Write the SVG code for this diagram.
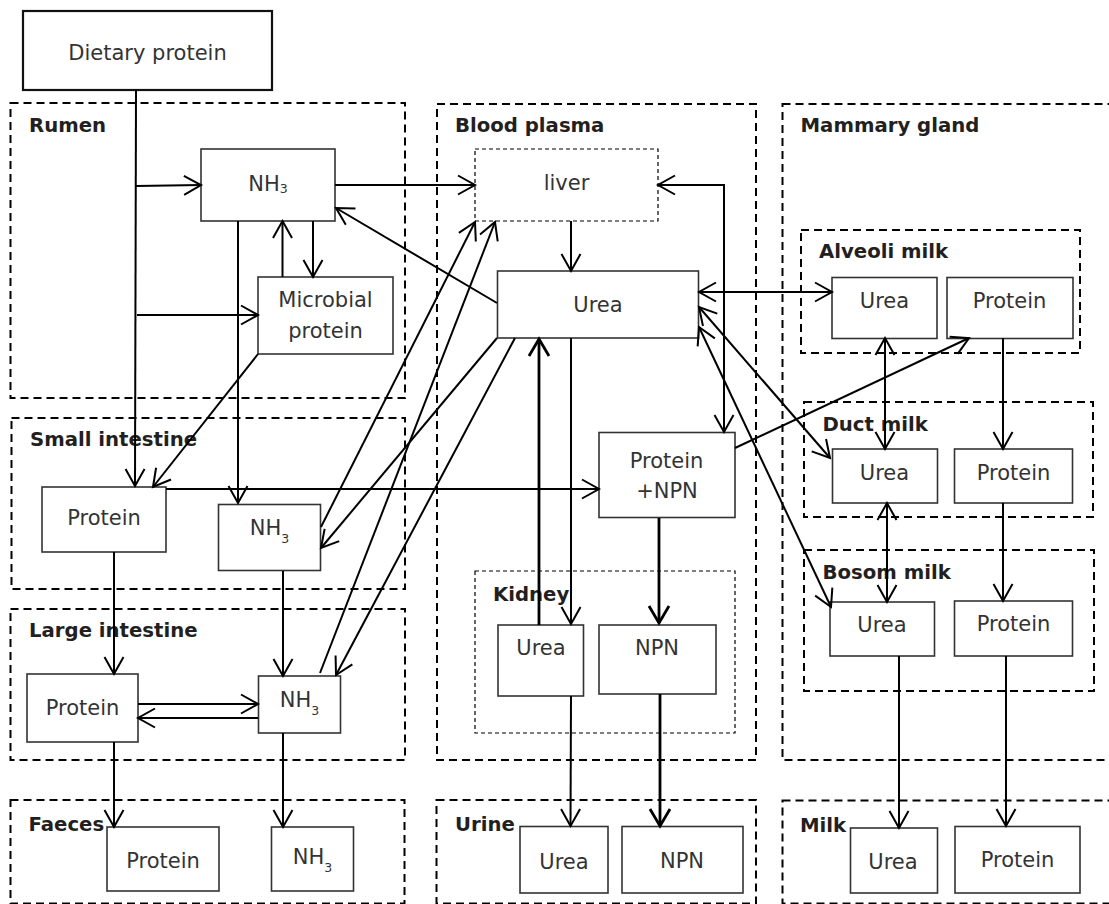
<svg xmlns="http://www.w3.org/2000/svg" width="1109" height="904" viewBox="0 0 1109 904">
<style>
.c{fill:none;stroke:#000;stroke-width:2;stroke-dasharray:8 5}
.ci{fill:none;stroke:#000;stroke-width:1.2;stroke-dasharray:4 3}
.n{fill:#fff;stroke:#333;stroke-width:1.6}
.t{font-family:"DejaVu Sans","Noto Sans",sans-serif;font-size:21px;fill:#333;text-anchor:middle}
.s{font-size:12.5px}
.lb{font-family:"DejaVu Sans","Noto Sans",sans-serif;font-size:19.7px;font-weight:bold;fill:#231f20}
.e{fill:none;stroke:#000;stroke-width:2;marker-end:url(#a)}
.b{marker-start:url(#a)}
.k{fill:none;stroke:#000;stroke-width:2.8;marker-end:url(#ab)}
</style>
<defs>
<marker id="a" markerUnits="userSpaceOnUse" viewBox="-20 -20 40 40" markerWidth="40" markerHeight="40" refX="0" refY="0" orient="auto-start-reverse">
<path d="M-17,-9.5 L0,0 L-17,9.5" fill="none" stroke="#000" stroke-width="2"/>
</marker>
<marker id="ab" markerUnits="userSpaceOnUse" viewBox="-20 -20 40 40" markerWidth="40" markerHeight="40" refX="0" refY="0" orient="auto-start-reverse">
<path d="M-17,-10 L0,0 L-17,10" fill="none" stroke="#000" stroke-width="2.8"/>
</marker>
</defs>

<g id="containers">
<g id="rumen"><rect class="c" x="10.5" y="103" width="394.5" height="295"/><text class="lb" x="29" y="132">Rumen</text></g>
<g id="small-intestine"><rect class="c" x="11.5" y="418" width="393.5" height="171"/><text class="lb" x="30" y="446">Small intestine</text></g>
<g id="large-intestine"><rect class="c" x="10.5" y="609" width="394.5" height="151"/><text class="lb" x="29" y="637">Large intestine</text></g>
<g id="faeces"><rect class="c" x="10.5" y="800" width="394" height="103.5"/><text class="lb" x="28.5" y="831">Faeces</text></g>
<g id="blood-plasma"><rect class="c" x="437" y="104" width="319" height="656"/><text class="lb" x="455" y="132">Blood plasma</text></g>
<g id="kidney"><rect class="ci" x="475" y="571" width="260" height="162"/><text class="lb" x="493" y="601">Kidney</text></g>
<g id="urine"><rect class="c" x="436.5" y="800" width="319.5" height="103.5"/><text class="lb" x="455" y="831">Urine</text></g>
<g id="mammary-gland"><rect class="c" x="782.5" y="104" width="340" height="656"/><text class="lb" x="800.5" y="132">Mammary gland</text></g>
<g id="alveoli-milk"><rect class="c" x="801" y="230" width="279" height="123"/><text class="lb" x="819" y="258">Alveoli milk</text></g>
<g id="duct-milk"><rect class="c" x="804" y="402" width="289" height="115"/><text class="lb" x="822.5" y="430.5">Duct milk</text></g>
<g id="bosom-milk"><rect class="c" x="804" y="550" width="290" height="141"/><text class="lb" x="822.5" y="579">Bosom milk</text></g>
<g id="milk"><rect class="c" x="782.5" y="800.5" width="340" height="103"/><text class="lb" x="800" y="832">Milk</text></g>
</g>

<g id="dietary-protein"><rect x="23" y="11" width="249" height="79" fill="#fff" stroke="#111" stroke-width="2.2"/><text class="t" x="147.5" y="60">Dietary protein</text></g>

<g id="rumen-nh3"><rect class="n" x="201" y="149" width="134" height="72"/><text class="t" x="268" y="190.7">NH<tspan class="s" dy="2">3</tspan></text></g>
<g id="microbial-protein"><rect class="n" x="258" y="277" width="135" height="77"/><text class="t" x="325.5" y="307">Microbial</text><text class="t" x="325.5" y="338">protein</text></g>

<g id="si-protein"><rect class="n" x="42" y="487" width="124" height="65"/><text class="t" x="104" y="525">Protein</text></g>
<g id="si-nh3"><rect class="n" x="218.5" y="504.5" width="102" height="66"/><text class="t" x="269.5" y="535">NH<tspan class="s" dy="8">3</tspan></text></g>

<g id="li-protein"><rect class="n" x="27" y="674" width="111" height="68"/><text class="t" x="82.5" y="715">Protein</text></g>
<g id="li-nh3"><rect class="n" x="258.5" y="676" width="82" height="57"/><text class="t" x="299.5" y="706.5">NH<tspan class="s" dy="8">3</tspan></text></g>

<g id="faeces-protein"><rect class="n" x="107" y="827" width="112" height="64"/><text class="t" x="163" y="868">Protein</text></g>
<g id="faeces-nh3"><rect class="n" x="271.5" y="827" width="82" height="64"/><text class="t" x="312.5" y="864">NH<tspan class="s" dy="8">3</tspan></text></g>

<g id="liver"><rect class="ci" x="475" y="149" width="183" height="72" fill="none"/><text class="t" x="566.5" y="190">liver</text></g>
<g id="plasma-urea"><rect class="n" x="497.5" y="271" width="201" height="67"/><text class="t" x="598" y="311.5">Urea</text></g>
<g id="protein-npn"><rect class="n" x="599" y="432.5" width="136" height="85"/><text class="t" x="666.5" y="468">Protein</text><text class="t" x="667" y="498">+NPN</text></g>

<g id="kidney-urea"><rect class="n" x="498" y="625" width="85.5" height="71"/><text class="t" x="541" y="655">Urea</text></g>
<g id="kidney-npn"><rect class="n" x="599" y="625" width="117" height="69"/><text class="t" x="657" y="655">NPN</text></g>

<g id="urine-urea"><rect class="n" x="520" y="826.5" width="88" height="66.5"/><text class="t" x="564" y="869">Urea</text></g>
<g id="urine-npn"><rect class="n" x="622" y="826.5" width="121" height="66.5"/><text class="t" x="682" y="868">NPN</text></g>

<g id="alveoli-urea"><rect class="n" x="832" y="277.5" width="105" height="61"/><text class="t" x="884.5" y="308">Urea</text></g>
<g id="alveoli-protein"><rect class="n" x="947" y="277.5" width="126" height="61"/><text class="t" x="1009.5" y="308">Protein</text></g>
<g id="duct-urea"><rect class="n" x="832.5" y="449" width="105" height="54"/><text class="t" x="884.5" y="480">Urea</text></g>
<g id="duct-protein"><rect class="n" x="954.5" y="449" width="118" height="54"/><text class="t" x="1013.5" y="480">Protein</text></g>
<g id="bosom-urea"><rect class="n" x="830" y="602" width="104.5" height="54"/><text class="t" x="882" y="631.5">Urea</text></g>
<g id="bosom-protein"><rect class="n" x="954.5" y="601" width="118" height="55"/><text class="t" x="1013.5" y="630.5">Protein</text></g>

<g id="milk-urea"><rect class="n" x="850.5" y="828" width="87" height="65"/><text class="t" x="893" y="869">Urea</text></g>
<g id="milk-protein"><rect class="n" x="955" y="826.5" width="125" height="66.5"/><text class="t" x="1017.5" y="867">Protein</text></g>

<g id="connectors">
<path class="e" d="M136,90 L135,486"/>
<path class="e" d="M136,186 L201,185"/>
<path class="e" d="M137,315 L258,315"/>
<path class="e" d="M282.5,277 L282.5,221"/>
<path class="e" d="M313,221 L313,277"/>
<path class="e" d="M238,221 L238,503"/>
<path class="e" d="M335,185 L475,185"/>
<path class="e" d="M497,303 L336,208"/>
<path class="e" d="M258,354 L153,487"/>
<path class="e" d="M571,221 L571,271"/>
<path class="e b" d="M724,432 L724,185 L658,185"/>
<path class="e b" d="M699,292 L832,292"/>
<path class="e b" d="M699,307 L830,458"/>
<path class="e b" d="M699,327 L831,607"/>
<path class="e" d="M497,338 L321,548"/>
<path class="e" d="M515,338 L336,675"/>
<path class="e" d="M321,527 L475,222"/>
<path class="e" d="M320,673 L495,222"/>
<path class="e" d="M166,489 L599,489"/>
<path class="k" d="M539,625 L539,339"/>
<path class="e" d="M571,338 L571,624"/>
<path class="k" d="M659,518 L659,623"/>
<path class="e" d="M571,696 L570.5,826"/>
<path class="k" d="M660,694 L660,826"/>
<path class="e" d="M735,448 L969,338"/>
<path class="e b" d="M885,338 L885,449"/>
<path class="e" d="M1003,338 L1003,449"/>
<path class="e b" d="M887,503 L887,602"/>
<path class="e" d="M1003,503 L1003,601"/>
<path class="e" d="M899,656 L899,828"/>
<path class="e" d="M1006,656 L1006,826"/>
<path class="e" d="M114,552 L114,674"/>
<path class="e" d="M138,704 L258,704"/>
<path class="e" d="M258,718 L138,718"/>
<path class="e" d="M283,571 L283,676"/>
<path class="e" d="M114,742 L114,827"/>
<path class="e" d="M283,733 L283,827"/>
</g>
</svg>
